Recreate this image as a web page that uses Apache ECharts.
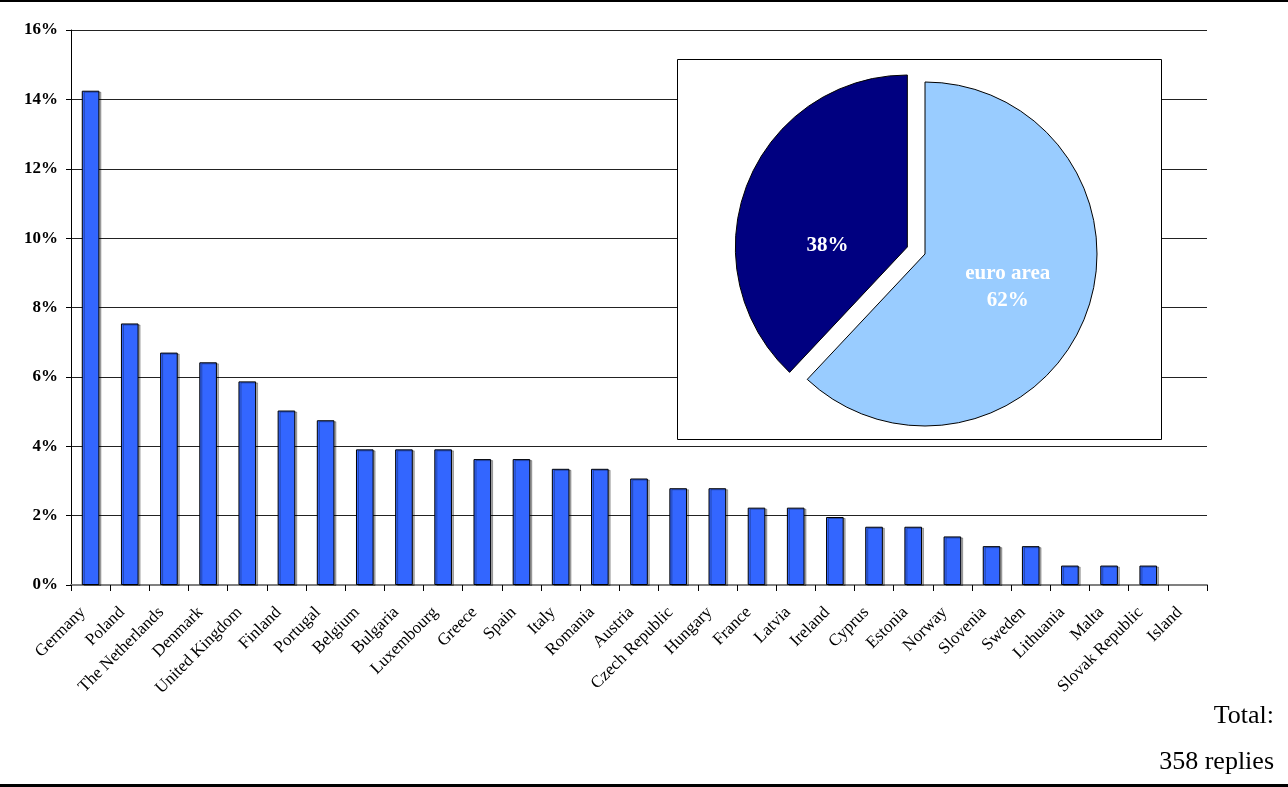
<!DOCTYPE html>
<html>
<head>
<meta charset="utf-8">
<script src="https://cdn.jsdelivr.net/npm/echarts@6/dist/echarts.min.js"></script>
<style>
  html, body { margin: 0; padding: 0; background: #fff; }
  #chart { width: 1288px; height: 787px; }
</style>
</head>
<body>
<div id="chart"></div>
<script>
// Share of replies by country (%)
const countries = [
  'Germany', 'Poland', 'The Netherlands', 'Denmark', 'United Kingdom', 'Finland',
  'Portugal', 'Belgium', 'Bulgaria', 'Luxembourg', 'Greece', 'Spain', 'Italy',
  'Romania', 'Austria', 'Czech Republic', 'Hungary', 'France', 'Latvia', 'Ireland',
  'Cyprus', 'Estonia', 'Norway', 'Slovenia', 'Sweden', 'Lithuania', 'Malta',
  'Slovak Republic', 'Island'
];
const shares = [
  14.25, 7.54, 6.70, 6.42, 5.87, 5.03,
  4.75, 3.91, 3.91, 3.91, 3.63, 3.63, 3.35,
  3.35, 3.07, 2.79, 2.79, 2.23, 2.23, 1.96,
  1.68, 1.68, 1.40, 1.12, 1.12, 0.56, 0.56,
  0.56, 0
];
// Euro area vs. other countries (%)
const pieNames = ['euro area', 'other'];
const pieValues = [62, 38];
const yTicks = { min: 0, max: 16, step: 2 };
const noteLines = ['Total:', '358 replies'];

const serif = '"Liberation Serif", "Times New Roman", serif';

// a zero-height bar should not leave its outline on the axis
const barData = shares.map(v => v === 0
  ? { value: v, itemStyle: { borderWidth: 0, shadowColor: 'transparent' } }
  : v);

const chart = echarts.init(document.getElementById('chart'), null, { renderer: 'canvas' });

chart.setOption({
  animation: false,
  backgroundColor: '#fff',
  grid: { left: 71, right: 81, top: 30, bottom: 202, containLabel: false },
  xAxis: {
    type: 'category',
    data: countries,
    boundaryGap: true,
    axisLine: { show: true, lineStyle: { color: '#808080', width: 2 } },
    axisTick: { show: true, alignWithLabel: false, length: 6, lineStyle: { color: '#000', width: 1 } },
    axisLabel: {
      interval: 0, rotate: 45, margin: 17, padding: [0, 11, 0, 0],
      fontFamily: serif, fontSize: 17, color: '#000'
    },
    splitLine: { show: false }
  },
  yAxis: {
    type: 'value',
    min: yTicks.min, max: yTicks.max, interval: yTicks.step,
    axisLine: { show: true, lineStyle: { color: '#000', width: 1 } },
    axisTick: { show: true, length: 5, lineStyle: { color: '#000' } },
    axisLabel: {
      margin: 13, fontFamily: serif, fontSize: 17, fontWeight: 'bold', color: '#000',
      formatter: v => v + '%'
    },
    splitLine: { show: true, lineStyle: { color: '#222', width: 1 } }
  },
  series: [
    {
      type: 'bar',
      data: barData,
      barWidth: '45%',
      z: 2,
      itemStyle: {
        color: '#3366FF', borderColor: '#000', borderWidth: 1,
        shadowColor: 'rgba(0,0,0,0.3)', shadowOffsetX: 2, shadowOffsetY: 1, shadowBlur: 0
      },
      emphasis: { disabled: true }
    },
    {
      type: 'pie',
      center: [925, 254],
      radius: 172,
      startAngle: 90,
      clockwise: true,
      z: 3,
      selectedMode: 'single',
      selectedOffset: 19,
      avoidLabelOverlap: false,
      emphasis: { disabled: true },
      itemStyle: { borderColor: '#000', borderWidth: 1 },
      label: {
        show: true, position: 'inside', color: '#fff',
        fontFamily: serif, fontSize: 21, fontWeight: 'bold', lineHeight: 27,
        formatter: p => p.dataIndex === 0 ? p.name + '\n' + p.value + '%' : p.value + '%'
      },
      labelLayout: p => (p.dataIndex === 1 ? { dy: 31, dx: 3 } : {}),
      labelLine: { show: false },
      data: [
        { name: pieNames[0], value: pieValues[0], itemStyle: { color: '#99CCFF' } },
        { name: pieNames[1], value: pieValues[1], selected: true, itemStyle: { color: '#000080' } }
      ]
    }
  ],
  graphic: {
    elements: [
      // frame rules at top and bottom
      { type: 'rect', left: 0, top: 0, z: 10, shape: { width: 1288, height: 2 }, style: { fill: '#000' } },
      { type: 'rect', left: 0, top: 784, z: 10, shape: { width: 1288, height: 3 }, style: { fill: '#000' } },
      // inset box behind the pie
      { type: 'rect', z: 1, shape: { x: 677.5, y: 59.5, width: 484, height: 380 },
        style: { fill: '#fff', stroke: '#000', lineWidth: 1 } },
      // note in the lower right
      { type: 'text', z: 10, x: 1274, y: 716,
        style: { text: noteLines[0], fill: '#000', font: '26px ' + serif, textAlign: 'right', textVerticalAlign: 'middle' } },
      { type: 'text', z: 10, x: 1274, y: 762,
        style: { text: noteLines[1], fill: '#000', font: '26px ' + serif, textAlign: 'right', textVerticalAlign: 'middle' } }
    ]
  }
});
</script>
</body>
</html>
